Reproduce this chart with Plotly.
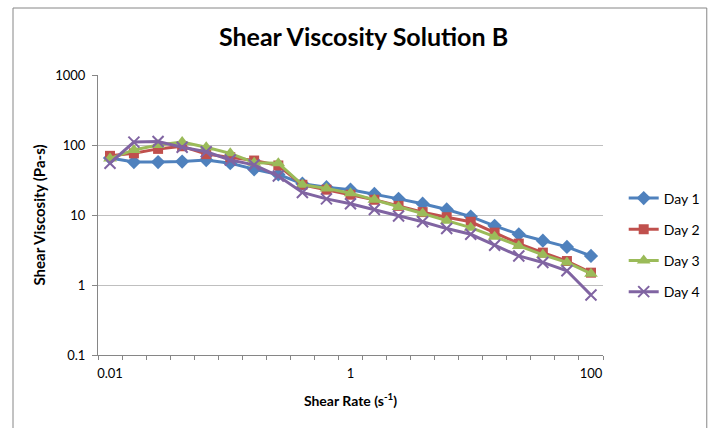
import numpy as np
import plotly.graph_objects as go

# Shear rates (s^-1): 21 log-spaced categories, 5 per decade, 0.01 .. 100
shear_rate = [0.01, 0.0158, 0.0251, 0.0398, 0.0631, 0.1, 0.158, 0.251, 0.398, 0.631,
              1, 1.58, 2.51, 3.98, 6.31, 10, 15.8, 25.1, 39.8, 63.1, 100]

day1 = [65, 57, 57, 58, 61, 55, 45, 38, 28, 25, 23, 20, 17, 14.5, 12, 9.5, 7, 5.3, 4.3, 3.5, 2.6]
day2 = [70, 76, 88, 96, 74, 67, 60, 51, 27, 23, 19.5, 16.5, 13.5, 11, 9.3, 8, 5.6, 3.9, 2.9, 2.2, 1.5]
day3 = [64, 85, 100, 110, 93, 76, 56, 55, 27, 24, 20.5, 16.5, 13, 10.5, 8.3, 6.6, 4.9, 3.6, 2.7, 2.1, 1.45]
day4 = [55, 110, 112, 93, 80, 61, 52, 36, 21, 17, 14.5, 12, 9.7, 8, 6.4, 5.3, 3.7, 2.6, 2.1, 1.6, 0.72]

series_names = ["Day 1", "Day 2", "Day 3", "Day 4"]
x_tick_vals = [0.01, 1, 100]
x_tick_text = ["0.01", "1", "100"]
y_tick_vals = [0.1, 1, 10, 100, 1000]
y_tick_text = ["0.1", "1", "10", "100", "1000"]

colors = ["#4F81BD", "#C0504D", "#9BBB59", "#8064A2"]
symbols = ["diamond", "square", "triangle-up", "x-thin-open"]
sizes = [11, 10, 12, 11]

fig = go.Figure()
for name, vals, c, s, sz in zip(series_names, [day1, day2, day3, day4], colors, symbols, sizes):
    marker = dict(symbol=s, size=sz, color=c)
    if s == "x-thin-open":
        marker["line"] = dict(color=c, width=2)
    else:
        marker["line"] = dict(width=0)
    fig.add_trace(go.Scatter(x=shear_rate, y=vals, name=name, mode="lines+markers",
                             line=dict(color=c, width=3), marker=marker,
                             legendgroup=name))

# category boundaries (half a step either side of each shear rate)
lx = np.log10(shear_rate)
step = (lx[-1] - lx[0]) / (len(lx) - 1)
bounds = [10 ** (lx[0] - step / 2 + step * k) for k in range(len(lx) + 1)]

font_family = "Lato, 'Open Sans', sans-serif"
fig.update_layout(
    width=717, height=428,
    margin=dict(l=98, r=108, t=75, b=73),
    paper_bgcolor="white", plot_bgcolor="white",
    font=dict(family=font_family, size=13, color="#000000"),
    title=dict(text="<b>Shear Viscosity Solution B</b>", x=0.507, xanchor="center",
               y=0.912, yanchor="middle", font=dict(size=25, color="#000000")),
    xaxis=dict(type="log", range=[lx[0] - step / 2, lx[-1] + step / 2],
               tickvals=x_tick_vals, ticktext=x_tick_text, ticks="",
               ticklabelstandoff=6,
               showgrid=False, showline=True, linecolor="#868686", linewidth=1,
               minor=dict(tickmode="array", tickvals=bounds, ticks="outside",
                          ticklen=4, tickcolor="#868686", showgrid=False),
               title=dict(text="<b>Shear Rate (s<sup>-1</sup>)</b>", standoff=16,
                          font=dict(size=14)),
               zeroline=False),
    yaxis=dict(type="log", range=[-1, 3], tickvals=y_tick_vals, ticktext=y_tick_text,
               ticks="outside", ticklen=5, tickcolor="#868686",
               ticklabelstandoff=4,
               showgrid=True, gridcolor="#BFBFBF", gridwidth=1,
               showline=True, linecolor="#868686", linewidth=1,
               title=dict(text="<b>Shear Viscosity (Pa-s)</b>", standoff=5,
                          font=dict(size=15)),
               zeroline=False),
    legend=dict(x=1.041, xanchor="left", y=0.393, yanchor="middle",
                traceorder="grouped", tracegroupgap=10,
                font=dict(size=14), bgcolor="rgba(0,0,0,0)"),
    showlegend=True,
)

# chart-area outline
fig.add_shape(type="rect", xref="paper", yref="paper",
              x0=(12 - 98) / 511, x1=(714 - 98) / 511,
              y0=(355 - 440) / 280, y1=(355 - 8) / 280,
              line=dict(color="#868686", width=1), fillcolor="rgba(0,0,0,0)",
              layer="below")

fig.write_html("out.html", config={"displayModeBar": False},
               post_script="document.body.style.margin='0';document.body.style.overflow='hidden';")
